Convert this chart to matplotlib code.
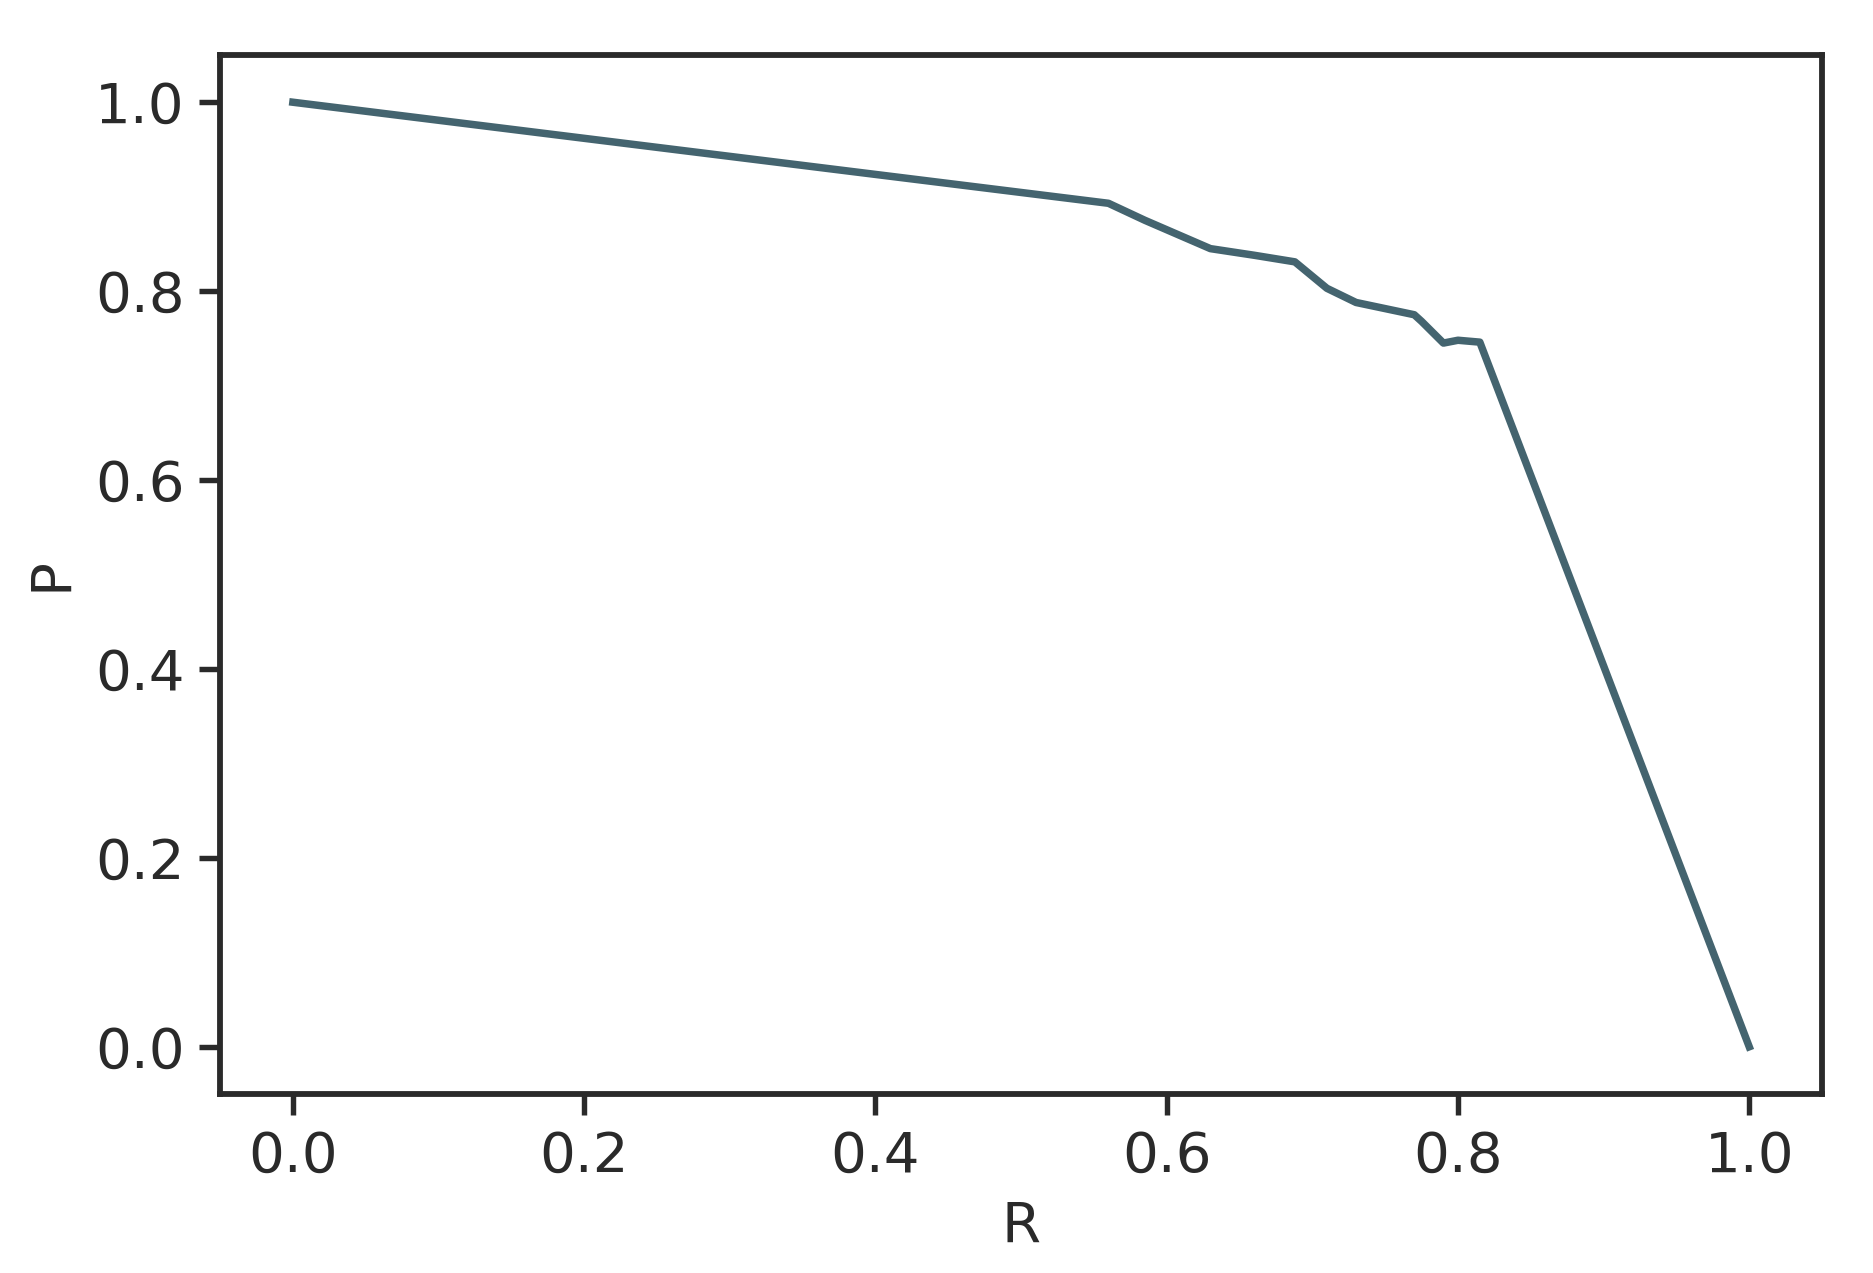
import matplotlib
matplotlib.use("Agg")
import matplotlib.pyplot as plt

# precision / recall curve
recall = [0.0, 0.56, 0.585, 0.63, 0.66, 0.688, 0.71, 0.73, 0.77, 0.775, 0.79, 0.80, 0.815, 1.0]
precision = [1.0, 0.893, 0.875, 0.845, 0.838, 0.831, 0.803, 0.788, 0.775, 0.768, 0.745, 0.748, 0.746, 0.0]

x_ticks = [0.0, 0.2, 0.4, 0.6, 0.8, 1.0]
y_ticks = [0.0, 0.2, 0.4, 0.6, 0.8, 1.0]

plt.rcParams['font.family'] = ['DejaVu Sans']
plt.rcParams['font.size'] = 13.5

fig = plt.figure(figsize=(1873 / 300, 1273 / 300), dpi=300)
ax = fig.add_axes([0.1175, 0.1406, 0.9728 - 0.1175, 0.9568 - 0.1406])

ax.plot(recall, precision, color='#44646f', linewidth=1.8)

ax.set_xlim(-0.05, 1.05)
ax.set_ylim(-0.05, 1.05)
ax.set_xticks(x_ticks)
ax.set_yticks(y_ticks)
ax.tick_params(length=5, width=1.3, colors='#2a2a2a', labelsize=13.5)
for s in ax.spines.values():
    s.set_linewidth(1.4)
    s.set_color('#2a2a2a')

ax.set_xlabel('R', color='#2a2a2a', fontsize=13.5)
ax.set_ylabel('P', color='#2a2a2a', fontsize=13.5)

fig.savefig('out.png', dpi=300)
